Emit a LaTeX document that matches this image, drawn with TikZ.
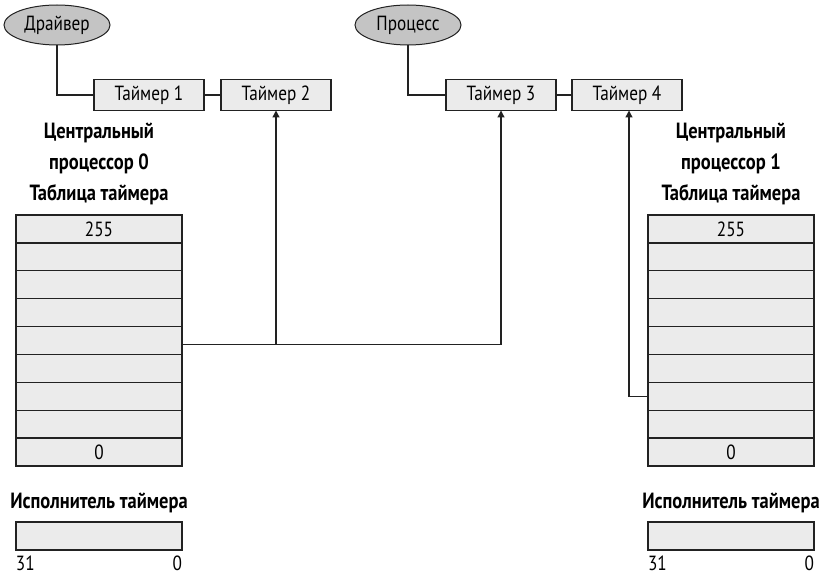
\documentclass[tikz,border=0pt]{standalone}
\usepackage{fontspec}
\setmainfont[FakeStretch=0.84]{PT Sans}
\usetikzlibrary{arrows.meta,shapes.geometric}
\definecolor{cellgray}{HTML}{EBEBEB}
\definecolor{ovalgray}{HTML}{C4C4C4}
\definecolor{linegray}{HTML}{222222}
\begin{document}
\begin{tikzpicture}[x=1pt,y=-1pt,
  every node/.style={font=\fontsize{20.5}{22}\selectfont, inner sep=0pt, outer sep=0pt},
  cell/.style={draw=linegray, line width=1.4pt, fill=cellgray, minimum width=166pt, minimum height=27.9pt},
  timerbox/.style={draw=linegray, line width=1.2pt, fill=cellgray, minimum width=110pt, minimum height=31pt},
  oval/.style={ellipse, draw=linegray, line width=1pt, fill=ovalgray, minimum width=106pt, minimum height=40pt},
  heading/.style={font=\fontsize{22}{24}\selectfont\bfseries},
  wire/.style={draw=linegray, line width=1.3pt},
  ptr/.style={wire, -{Triangle[width=7pt,length=7pt]}}
]
\useasboundingbox (0,0) rectangle (823,577);

% owners of the timers
\node[oval] (drv) at (57,25) {Драйвер};
\node[oval] (proc) at (408,25) {Процесс};

% timer chain
\node[timerbox] (t1) at (149,95) {Таймер 1};
\node[timerbox] (t2) at (276,95) {Таймер 2};
\node[timerbox] (t3) at (501,95) {Таймер 3};
\node[timerbox] (t4) at (627,95) {Таймер 4};

\draw[wire] (drv.south) |- (t1.west);
\draw[wire] (proc.south) |- (t3.west);
\draw[wire] (t1.east) -- (t2.west);
\draw[wire] (t3.east) -- (t4.west);

% headings
\node[heading] (hl1) at (99,133) {Центральный};
\node[heading] (hl2) at (99,164) {процессор 0};
\node[heading] (hl3) at (99,195) {Таблица таймера};
\node[heading] (hr1) at (731,133) {Центральный};
\node[heading] (hr2) at (731,164) {процессор 1};
\node[heading] (hr3) at (731,195) {Таблица таймера};

% timer tables
\foreach \i in {1,...,9} {
  \node[cell] (L\i) at (99,{215+27.9*(\i-0.5)}) {};
  \node[cell] (R\i) at (731,{215+27.9*(\i-0.5)}) {};
}
\node at (L1) {255};
\node at (L9) {0};
\node at (R1) {255};
\node at (R9) {0};

% pointers from table slots to timers
\draw[ptr] ([yshift=-4pt]L5.east) -| (t2.south);
\draw[ptr] ([yshift=-4pt]L5.east) -| (t3.south);
\draw[ptr] (R7.west) -| ([xshift=2pt]t4.south);

% timer executors
\node[heading] (el) at (99,503) {Исполнитель таймера};
\node[heading] (er) at (731,503) {Исполнитель таймера};
\node[cell, minimum height=28pt] (xl) at (99,536) {};
\node[cell, minimum height=28pt] (xr) at (731,536) {};
\node[anchor=west] (xl31) at (16,563) {31};
\node[anchor=east] (xl0) at (182,563) {0};
\node[anchor=west] (xr31) at (648,563) {31};
\node[anchor=east] (xr0) at (814,563) {0};
\end{tikzpicture}
\end{document}
